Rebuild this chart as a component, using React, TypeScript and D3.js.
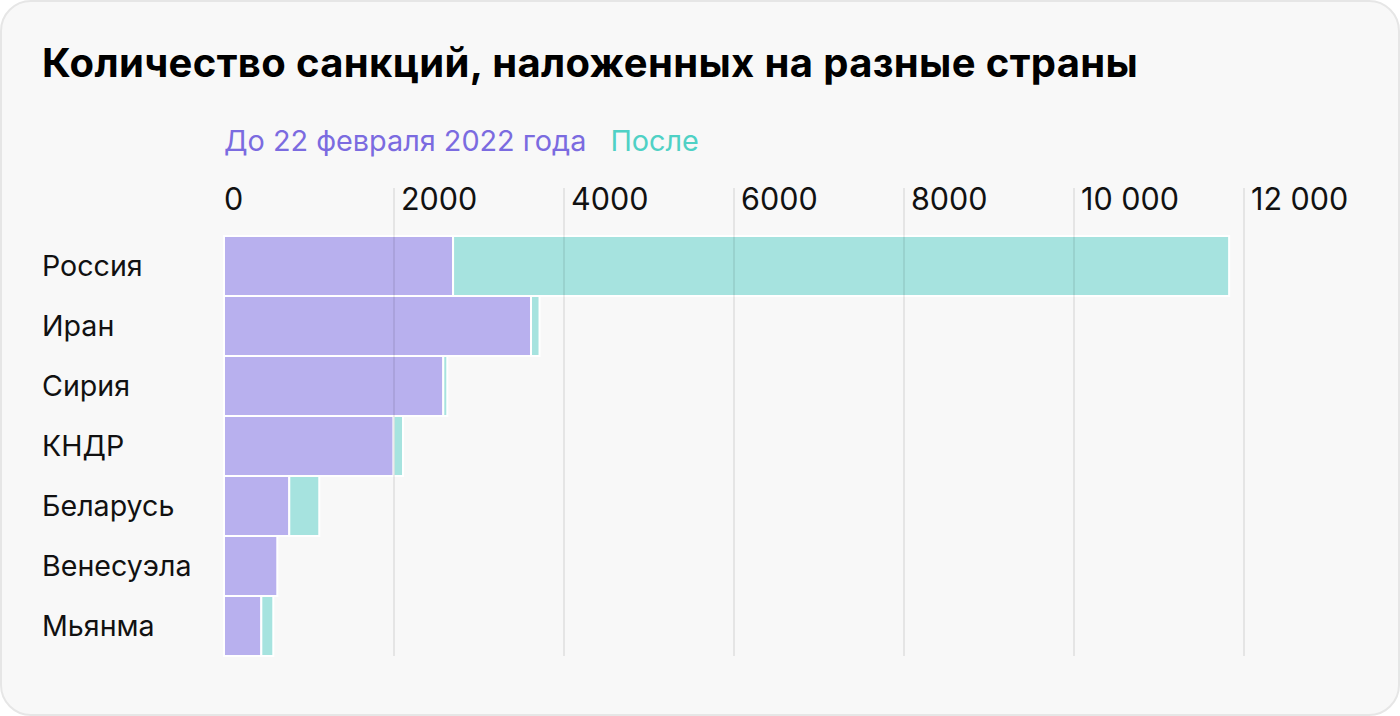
import { useEffect, useRef } from 'react';
import * as d3 from 'd3';

const countries = ['Россия', 'Иран', 'Сирия', 'КНДР', 'Беларусь', 'Венесуэла', 'Мьянма'];
const beforeValues = [2695, 3612, 2580, 1996, 768, 627, 439];
const afterValues = [9130, 100, 47, 110, 353, 0, 141];
const tickValues = [0, 2000, 4000, 6000, 8000, 10000, 12000];

const title = 'Количество санкций, наложенных на разные страны';
const legendBefore = 'До 22 февраля 2022 года';
const legendAfter = 'После';

const W = 1400;
const H = 716;
const FONT = 'Inter, "Noto Sans", sans-serif';

const fmt = (v: number) => (v >= 10000 ? d3.format(',')(v).replace(',', ' ') : String(v));

export default function App() {
  const ref = useRef<SVGSVGElement | null>(null);

  useEffect(() => {
    document.body.style.margin = '0';
    if (!ref.current) return;
    const svg = d3.select(ref.current);
    svg.selectAll('*').remove();

    // card
    svg
      .append('rect')
      .attr('x', 1)
      .attr('y', 1)
      .attr('width', W - 2)
      .attr('height', H - 2)
      .attr('rx', 30)
      .attr('fill', '#f8f8f8')
      .attr('stroke', '#e6e6e6')
      .attr('stroke-width', 2);

    svg
      .append('text')
      .attr('x', 42)
      .attr('y', 77)
      .attr('font-family', FONT)
      .attr('font-weight', 700)
      .attr('font-size', 40)
      .attr('letter-spacing', 0.36)
      .attr('fill', '#000')
      .text(title);

    const legend = svg.append('text').attr('x', 224).attr('y', 151).attr('font-family', FONT).attr('font-size', 28.8);
    legend.append('tspan').attr('fill', '#7b6be0').text(legendBefore);
    legend.append('tspan').attr('fill', '#4fd1c5').attr('dx', 24).text(legendAfter);

    const x = d3.scaleLinear().domain([0, 12000]).range([224, 1244]);
    const y = d3.scaleBand<string>().domain(countries).range([236, 656]).paddingInner(0);

    const rows = svg
      .append('g')
      .selectAll('g')
      .data(countries)
      .join('g');

    rows
      .append('rect')
      .attr('x', x(0))
      .attr('y', d => y(d)!)
      .attr('width', (_, i) => x(beforeValues[i]) - x(0))
      .attr('height', y.bandwidth())
      .attr('fill', '#b8b0ee')
      .attr('stroke', '#fff')
      .attr('stroke-width', 2);

    rows
      .filter(d => afterValues[countries.indexOf(d)] > 0)
      .append('rect')
      .attr('x', d => x(beforeValues[countries.indexOf(d)]))
      .attr('y', d => y(d)!)
      .attr('width', d => {
        const i = countries.indexOf(d);
        return x(beforeValues[i] + afterValues[i]) - x(beforeValues[i]);
      })
      .attr('height', y.bandwidth())
      .attr('fill', '#a6e3df')
      .attr('stroke', '#fff')
      .attr('stroke-width', 2);

    rows
      .append('text')
      .attr('x', 42)
      .attr('y', d => y(d)! + y.bandwidth() / 2 + 10)
      .attr('font-family', FONT)
      .attr('font-size', 28.6)
      .attr('fill', '#111')
      .text(d => d);

    // grid lines on top
    svg
      .append('g')
      .selectAll('line')
      .data(tickValues.filter(t => t > 0))
      .join('line')
      .attr('x1', d => x(d))
      .attr('x2', d => x(d))
      .attr('y1', 188)
      .attr('y2', 656)
      .attr('stroke', 'rgba(0,0,0,0.1)')
      .attr('stroke-width', 1.5);

    svg
      .append('g')
      .selectAll('text')
      .data(tickValues)
      .join('text')
      .attr('x', d => x(d) + (d === 0 ? 0 : 7))
      .attr('y', 210)
      .attr('font-family', FONT)
      .attr('font-size', 30.5)
      .attr('fill', '#111')
      .text(d => fmt(d));
  }, []);

  return <svg ref={ref} width={W} height={H} style={{ display: 'block' }} />;
}
